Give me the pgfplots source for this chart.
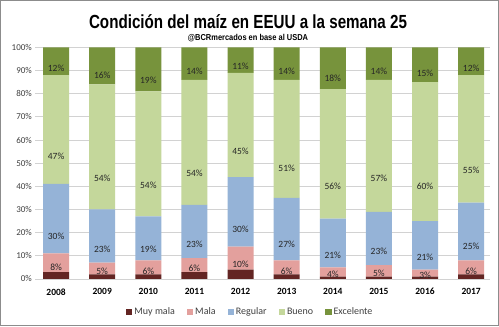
\documentclass[border=0pt]{standalone}
\usepackage{pgfplots}
\pgfplotsset{compat=1.18}
\usepackage{pgfplotstable}
\usepackage{fontspec}
\setmainfont{Carlito}
\newfontfamily\titlefont{Liberation Sans}
\definecolor{muymala}{HTML}{632523}
\definecolor{mala}{HTML}{E3A09D}
\definecolor{regular}{HTML}{95B3D7}
\definecolor{bueno}{HTML}{C4D79B}
\definecolor{excelente}{HTML}{77933C}
\definecolor{txt}{HTML}{404040}
\pgfplotstableread{
x MuyMala Mala Regular Bueno Excelente
0 3 8 30 47 12
1 2 5 23 54 16
2 2 6 19 54 19
3 3 6 23 54 14
4 4 10 30 45 11
5 2 6 27 51 14
6 1 4 21 56 18
7 1 5 23 57 14
8 1 3 21 60 15
9 2 6 25 55 12
}\datatable
\begin{document}
\begin{tikzpicture}
\draw[draw=gray!90, line width=0.8pt, fill=white] (-35pt,-47pt) rectangle (464pt,279pt);
\begin{axis}[
  at={(0pt,0pt)}, anchor=south west,
  scale only axis, width=455pt, height=232pt,
  ybar stacked, bar width=26pt,
  ymin=0, ymax=100, xmin=-0.45, xmax=9.4,
  ytick={0,10,...,100},
  yticklabel={\pgfmathprintnumber{\tick}\%},
  /pgf/number format/assume math mode=true,
  yticklabel style={font=\fontsize{9}{10}\selectfont, text=txt},
  xtick={0,...,9},
  xticklabels={2008,2009,2010,2011,2012,2013,2014,2015,2016,2017},
  xticklabel style={font=\fontsize{9.5}{10}\selectfont\bfseries, yshift=-6pt},
  major tick length=0pt,
  axis line style={draw=none},
  ymajorgrids, grid style={draw=gray!35, line width=0.8pt},
  legend style={at={(0.473,-0.142)}, anchor=center, draw=none, fill=none,
    font=\fontsize{10}{11}\selectfont, text=txt, legend columns=5,
    /tikz/every even column/.append style={column sep=10pt}},
  legend image code/.code={\fill[#1] (0pt,-3.2pt) rectangle (6.4pt,3.2pt);},
  visualization depends on=rawy \as \rawy,
  every node near coord/.append style={anchor=center, yshift=-\rawy*0.58pt,
    font=\fontsize{9.5}{10}\selectfont, text=black!85},
  clip=false,
]
\addplot[fill=muymala, draw=none] table[x=x, y=MuyMala] {\datatable};
\addplot[fill=mala, draw=none, nodes near coords={\pgfmathprintnumber{\rawy}\%}] table[x=x, y=Mala] {\datatable};
\addplot[fill=regular, draw=none, nodes near coords={\pgfmathprintnumber{\rawy}\%}] table[x=x, y=Regular] {\datatable};
\addplot[fill=bueno, draw=none, nodes near coords={\pgfmathprintnumber{\rawy}\%}] table[x=x, y=Bueno] {\datatable};
\addplot[fill=excelente, draw=none, nodes near coords={\pgfmathprintnumber{\rawy}\%}] table[x=x, y=Excelente] {\datatable};
\legend{Muy mala, Mala, Regular, Bueno, Excelente}
\end{axis}
\node at (213pt,258pt) {\scalebox{0.8}[1]{\titlefont\bfseries\fontsize{19}{22}\selectfont Condición del maíz en EEUU a la semana 25}};
\node at (213pt,241pt) {\scalebox{0.87}[1]{\titlefont\bfseries\fontsize{8.6}{10}\selectfont @BCRmercados en base al USDA}};
\end{tikzpicture}
\end{document}
